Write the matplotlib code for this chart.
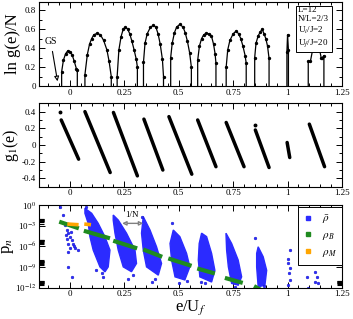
import matplotlib
matplotlib.use('Agg')
import matplotlib.pyplot as plt
import numpy as np
from matplotlib.ticker import FixedLocator, MultipleLocator, FixedFormatter
from matplotlib.lines import Line2D
from matplotlib.patches import Polygon

plt.rcParams['font.family'] = ['Liberation Serif', 'DejaVu Serif']
plt.rcParams['mathtext.fontset'] = 'stix'

# ---------------- data: top panel (ln g(e)/N), one dome per list ----------
dome_e = [
    [-0.038, -0.03, -0.02, -0.01, 0.0, 0.01, 0.02, 0.03, 0.034],
    [0.069, 0.08, 0.09, 0.10, 0.11, 0.125, 0.14, 0.155, 0.17, 0.18, 0.19],
    [0.217, 0.225, 0.235, 0.245, 0.255, 0.265, 0.275, 0.285, 0.295, 0.305, 0.31],
    [0.338, 0.345, 0.355, 0.37, 0.384, 0.395, 0.405, 0.415, 0.425, 0.43],
    [0.463, 0.47, 0.48, 0.49, 0.505, 0.52, 0.53, 0.54, 0.55, 0.558],
    [0.587, 0.595, 0.605, 0.615, 0.625, 0.64, 0.65, 0.66, 0.667, 0.671],
    [0.718, 0.725, 0.735, 0.75, 0.764, 0.775, 0.785, 0.795, 0.805, 0.81],
    [0.849, 0.855, 0.865, 0.875, 0.883, 0.892, 0.90, 0.908, 0.915],
    [0.997, 1.0, 1.004],
    [1.095, 1.105, 1.115, 1.125, 1.135, 1.145, 1.155, 1.16, 1.167],
]
dome_h = [
    [0.15, 0.27, 0.34, 0.37, 0.36, 0.33, 0.26, 0.18, 0.17],
    [0.12, 0.33, 0.44, 0.50, 0.54, 0.555, 0.54, 0.48, 0.38, 0.26, 0.10],
    [0.10, 0.38, 0.52, 0.60, 0.62, 0.60, 0.55, 0.47, 0.38, 0.28, 0.20],
    [0.25, 0.45, 0.55, 0.62, 0.64, 0.62, 0.55, 0.44, 0.28, 0.10],
    [0.30, 0.45, 0.56, 0.62, 0.65, 0.62, 0.56, 0.47, 0.35, 0.20],
    [0.27, 0.42, 0.50, 0.54, 0.555, 0.55, 0.53, 0.44, 0.34, 0.24],
    [0.20, 0.38, 0.48, 0.55, 0.58, 0.55, 0.50, 0.42, 0.32, 0.24],
    [0.30, 0.45, 0.53, 0.57, 0.60, 0.55, 0.50, 0.42, 0.29],
    [0.36, 0.54, 0.38],
    [0.26, 0.26, 0.38, 0.46, 0.47, 0.41, 0.29, 0.30, 0.32],
]

# ---------------- data: middle panel g_1(e), band end points -------------
band_e = [[-0.040, 0.040], [0.069, 0.185], [0.200, 0.310], [0.340, 0.427],
          [0.455, 0.560], [0.587, 0.671], [0.718, 0.800], [0.852, 0.915],
          [0.998, 1.010], [1.100, 1.170]]
band_g = [[0.30, -0.17], [0.40, -0.33], [0.39, -0.37], [0.31, -0.30],
          [0.34, -0.35], [0.30, -0.26], [0.27, -0.26], [0.18, -0.27],
          [0.03, -0.15], [0.25, -0.26]]
g_iso_e = [-0.046, 0.849]
g_iso_g = [0.39, 0.245]

# ---------------- data: bottom panel p_n (log10 values) ------------------
cloud_e = [
    [0.069, 0.100, 0.130, 0.161, 0.184, 0.176, 0.161, 0.138, 0.107, 0.092, 0.084, 0.069],
    [0.199, 0.222, 0.260, 0.299, 0.306, 0.283, 0.245, 0.222, 0.207, 0.199],
    [0.337, 0.368, 0.398, 0.421, 0.406, 0.352, 0.337, 0.329],
    [0.475, 0.505, 0.536, 0.551, 0.528, 0.483, 0.467, 0.460],
    [0.605, 0.628, 0.651, 0.666, 0.651, 0.597, 0.590, 0.594],
    [0.717, 0.743, 0.773, 0.789, 0.773, 0.743, 0.728, 0.720],
    [0.865, 0.888, 0.904, 0.896, 0.865, 0.858, 0.858],
]
cloud_lp = [
    [-0.48, -1.21, -2.67, -4.62, -6.56, -9.0, -9.72, -9.0, -6.56, -4.62, -2.67, -1.21],
    [-1.46, -2.19, -4.1, -6.56, -8.5, -9.7, -9.0, -6.56, -4.1, -2.19],
    [-1.7, -3.64, -6.08, -8.5, -10.2, -9.0, -6.56, -4.1],
    [-3.64, -4.6, -7.04, -9.0, -10.9, -10.45, -8.0, -5.6],
    [-4.1, -4.6, -7.04, -9.5, -11.2, -10.45, -8.0, -5.6],
    [-4.1, -5.6, -8.0, -10.45, -11.66, -11.4, -9.0, -6.56],
    [-6.08, -7.53, -9.5, -11.66, -11.9, -9.0, -7.04],
]
rho_e = [-0.046, -0.031, -0.023, -0.015, -0.008, 0.0, 0.008, -0.008, 0.015, 0.0,
         0.038, -0.008, -0.008, 0.008, -0.02, 0.004, 0.02, -0.012, 0.025,
         0.153, 0.146, 0.075, 0.12, 0.268, 0.29, 0.329, 0.375, 0.39,
         0.467, 0.50, 0.54, 0.62, 0.60, 0.76, 0.85, 0.89,
         1.011, 1.003, 1.001, 1.011, 1.006, 1.011, 1.003,
         1.118, 1.118, 1.126, 1.134, 1.126, 1.141, 1.088, 1.096]
rho_lp = [-0.25, -1.46, -2.9, -3.6, -4.1, -4.6, -5.1, -5.6, -5.6, -6.3,
          -6.6, -6.8, -9.0, -10.4, -4.3, -3.9, -5.9, -5.0, -6.2,
          -10.45, -9.9, -0.3, -9.5, -10.7, -10.2, -1.7, -11.2, -10.8,
          -2.67, -11.3, -11.0, -11.4, -11.2, -11.9, -4.86, -11.8,
          -6.56, -7.8, -8.5, -9.2, -9.9, -10.9, -11.6,
          -6.8, -7.8, -9.7, -10.45, -11.2, -11.4, -10.45, -12.0]

rhoB_e = [[-0.049, 0.041], [0.064, 0.184], [0.199, 0.309], [0.337, 0.424],
          [0.452, 0.559], [0.585, 0.666], [0.712, 0.794], [0.846, 0.875]]
rhoB_lp = [[-2.43, -3.40], [-3.75, -4.85], [-5.2, -6.31], [-6.46, -7.54],
           [-7.77, -8.85], [-9.23, -9.96], [-10.6, -11.33], [-11.8, -12.3]]
rhoM_e = [[-0.012, 0.040], [0.066, 0.097]]
rhoM_lp = [[-2.77, -2.87], [-2.77, -2.87]]

xticks = [0, 0.25, 0.5, 0.75, 1, 1.25]
xticklabels = ['0', '0.25', '0.5', '0.75', '1', '1.25']

# ---------------- figure ------------------------------------------------
fig = plt.figure(figsize=(3.53, 3.19), dpi=100)
L, W = 0.1105, 0.8595
ax1 = fig.add_axes([L, 0.7304, W, 0.2633])
ax2 = fig.add_axes([L, 0.4147, W, 0.2615])
ax3 = fig.add_axes([L, 0.0987, W, 0.2587])

for ax in (ax1, ax2, ax3):
    ax.set_xlim(-0.142, 1.252)
    ax.xaxis.set_major_locator(FixedLocator(xticks))
    ax.xaxis.set_major_formatter(FixedFormatter(xticklabels))
    ax.xaxis.set_minor_locator(MultipleLocator(0.05))
    ax.tick_params(which='both', direction='in', top=True, right=True,
                   labelsize=6.5, width=0.7, pad=2)
    ax.tick_params(which='major', length=4.5)
    ax.tick_params(which='minor', length=2.5)
    for s in ax.spines.values():
        s.set_linewidth(0.8)

# top panel
for es, hs in zip(dome_e, dome_h):
    xs = [es[0]] + list(es) + [es[-1]]
    ys = [0] + list(hs) + [0]
    ax1.plot(xs, ys, color='black', lw=0.9)
    ax1.plot(es, hs, 'o', color='black', ms=1.4, lw=0)
ax1.set_ylim(0, 0.885)
ax1.set_yticks([0, 0.2, 0.4, 0.6, 0.8])
ax1.set_yticklabels(['0', '0.2', '0.4', '0.6', '0.8'])
ax1.yaxis.set_minor_locator(MultipleLocator(0.1))
ax1.set_ylabel('ln g(e)/N', fontsize=12)
ax1.yaxis.set_label_coords(-0.06, 0.5)
ax1.annotate('GS', xy=(-0.057, 0.05), xytext=(-0.088, 0.47),
             fontsize=7, ha='center', va='center',
             arrowprops=dict(arrowstyle='-|>', fc='white', ec='black',
                             lw=0.8, shrinkA=2, shrinkB=0, mutation_scale=7))
ax1.text(1.049, 0.843,
         'L=12\nN/L=2/3\nU$_i$/J=2\nU$_f$/J=20', fontsize=6.5, ha='left', va='top',
         linespacing=1.2, zorder=5,
         bbox=dict(boxstyle='square,pad=0.28', fc='white', ec='black', lw=0.7))

# middle panel
for es, gs in zip(band_e, band_g):
    ax2.plot(es, gs, color='black', lw=2.5, solid_capstyle='round')
ax2.plot(g_iso_e, g_iso_g, 'o', color='black', ms=1.8)
ax2.set_ylim(-0.5, 0.5)
ax2.set_yticks([-0.4, -0.2, 0, 0.2, 0.4])
ax2.set_yticklabels(['-0.4', '-0.2', '0', '0.2', '0.4'])
ax2.yaxis.set_minor_locator(MultipleLocator(0.1))
ax2.set_ylabel('g$_1$(e)', fontsize=11.5)
ax2.yaxis.set_label_coords(-0.058, 0.5)

# bottom panel
blue = '#2b2bff'
for es, lps in zip(cloud_e, cloud_lp):
    pts = np.column_stack([es, np.power(10.0, lps)])
    ax3.add_patch(Polygon(pts, closed=True, fc=blue, ec=blue, lw=1.0, zorder=2))
ax3.plot(rho_e, np.power(10.0, rho_lp), 'o', color=blue, mec='#1010c0',
         mew=0.3, ms=2.0, lw=0, zorder=2)
for es, lps in zip(rhoB_e, rhoB_lp):
    ax3.plot(es, np.power(10.0, lps), color='#1f8a1f', lw=3.0,
             solid_capstyle='butt', zorder=3)
for es, lps in zip(rhoM_e, rhoM_lp):
    ax3.plot(es, np.power(10.0, lps), color='#ffa500', lw=2.6,
             solid_capstyle='butt', zorder=4)
ax3.set_yscale('log')
ax3.set_ylim(1e-12, 1)
ax3.yaxis.set_major_locator(FixedLocator([1e-12, 1e-9, 1e-6, 1e-3, 1]))
ax3.yaxis.set_major_formatter(FixedFormatter(['10$^{-12}$', '10$^{-9}$', '10$^{-6}$',
                                              '10$^{-3}$', '10$^{0}$']))
minor = [k * 10.0 ** (-3 * j) for j in range(1, 5) for k in range(2, 10)]
ax3.yaxis.set_minor_locator(FixedLocator(minor))
ax3.tick_params(axis='y', which='minor', length=3.5, width=0.8)
ax3.set_ylabel('p$_n$', fontsize=12)
ax3.yaxis.set_label_coords(-0.075, 0.5)
ax3.set_xlabel('e/U$_f$', fontsize=12, labelpad=0)

ax3.annotate('', xy=(0.24, 10 ** -2.67), xytext=(0.337, 10 ** -2.67),
             arrowprops=dict(arrowstyle='<|-|>', fc='white', ec='#808080',
                             lw=1.0, shrinkA=0, shrinkB=0, mutation_scale=6),
             zorder=5)
ax3.text(0.286, 10 ** -1.5, '1/N', fontsize=6.5, ha='center', va='center')

handles = [Line2D([], [], marker='s', ls='', color=blue, ms=2.2),
           Line2D([], [], marker='s', ls='', color='#1f8a1f', ms=2.2),
           Line2D([], [], marker='s', ls='', color='#ffa500', ms=2.2)]
leg = ax3.legend(handles, [r'$\bar{\rho}$', r'$\rho_B$', r'$\rho_M$'],
                 loc='upper right', bbox_to_anchor=(1.0, 0.975),
                 borderaxespad=0, fontsize=8, handlelength=0.8,
                 handletextpad=0.9, labelspacing=0.45, borderpad=0.5,
                 frameon=True, fancybox=False, framealpha=1, edgecolor='black')
leg.get_frame().set_linewidth(0.7)
leg.set_zorder(6)

fig.savefig('out.png', dpi=100)
